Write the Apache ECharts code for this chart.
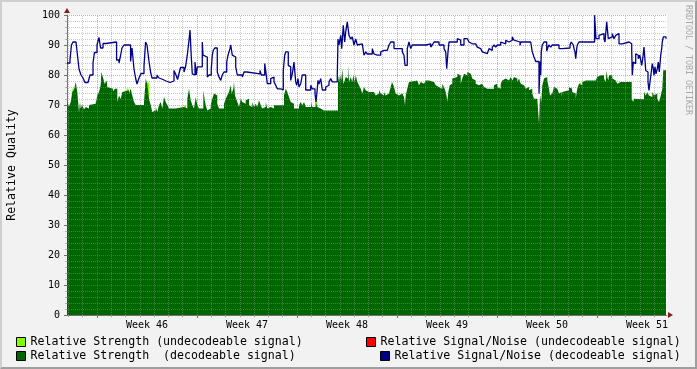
<!DOCTYPE html>
<html><head><meta charset="utf-8">
<script src="https://cdn.jsdelivr.net/npm/echarts@6/dist/echarts.min.js"></script>
<style>
html,body{margin:0;padding:0;background:#f2f2f2;}
#wrap{position:relative;width:697px;height:369px;overflow:hidden;}
#chart{width:697px;height:369px;}
#frame{position:absolute;left:0;top:0;width:697px;height:369px;box-sizing:border-box;border-top:2px solid #cfcfcf;border-left:2px solid #cfcfcf;border-right:2px solid #9e9e9e;border-bottom:2px solid #9e9e9e;pointer-events:none;}
</style></head>
<body><div id="wrap"><div id="chart"></div><div id="frame"></div></div>
<script>
// time axis in days since the start of Week 46
const weekLabels = ['Week 46','Week 47','Week 48','Week 49','Week 50','Week 51'];
const weekLabelPos = [3.5,10.5,17.5,24.5,31.5,38.5];
const weekStarts = [0,7,14,21,28,35];
const yTicks = [0,10,20,30,40,50,60,70,80,90,100];

const seriesNames = [
  'Relative Strength (undecodeable signal)',
  'Relative Strength  (decodeable signal)',
  'Relative Signal/Noise (undecodeable signal)',
  'Relative Signal/Noise (decodeable signal)'
];

// Relative Strength (decodeable signal)
const strengthT = [-2.10,-1.96,-1.84,-1.73,-1.61,-1.49,-1.38,-1.26,-1.19,-1.14,-1.03,-0.91,-0.79,-0.68,-0.56,-0.44,-0.09,0.02,0.14,0.26,0.30,0.44,0.54,0.68,0.72,0.84,1.12,1.26,1.42,1.54,1.66,1.77,1.89,2.24,2.36,2.47,2.59,2.71,3.29,3.41,3.52,3.64,3.76,3.87,3.99,4.11,4.22,4.34,4.46,4.57,4.69,4.81,4.92,5.04,5.51,6.09,6.32,6.44,6.56,6.67,6.79,6.91,7.02,7.14,7.44,7.54,7.61,7.72,7.84,7.96,8.07,8.19,8.31,8.42,8.54,8.89,9.01,9.12,9.24,9.36,9.43,9.54,9.59,9.66,9.78,9.87,9.94,10.06,10.17,10.29,10.41,10.52,10.64,10.76,10.87,10.99,11.11,11.22,11.34,11.46,11.57,11.69,11.81,11.92,12.04,12.16,12.27,12.39,13.09,13.21,13.32,13.44,13.56,13.67,13.79,14.14,14.26,14.37,14.49,14.61,14.98,15.07,15.31,15.42,15.54,15.66,15.89,16.01,16.47,16.59,16.87,16.94,17.01,17.10,17.17,17.24,17.34,17.41,17.52,17.57,17.64,17.76,17.87,17.94,18.04,18.11,18.22,18.34,18.46,18.57,18.69,18.81,18.92,19.04,19.16,19.39,19.51,19.62,19.74,19.86,19.97,20.09,20.21,20.32,20.44,20.56,20.65,20.79,20.91,21.02,21.14,21.37,21.49,21.56,21.61,21.72,21.84,21.96,22.42,22.54,22.66,22.77,22.89,23.01,23.24,23.59,23.71,23.82,23.94,24.06,24.17,24.29,24.41,24.48,24.52,24.59,24.69,24.76,24.87,24.99,25.22,25.29,25.34,25.46,25.57,25.69,25.81,25.92,26.04,26.16,26.27,26.39,26.51,26.62,26.74,26.86,26.97,27.09,27.21,27.32,27.44,27.56,27.67,27.79,27.91,28.02,28.14,28.26,28.37,28.49,28.61,28.72,28.84,28.96,29.07,29.19,29.31,29.42,29.54,29.66,29.77,29.89,30.01,30.12,30.24,30.36,30.47,30.59,30.82,30.89,30.94,31.01,31.10,31.17,31.29,31.41,31.52,31.64,31.71,31.76,31.87,31.99,32.11,32.22,32.34,32.46,32.53,32.57,32.69,33.04,33.16,33.23,33.27,33.39,33.51,33.58,33.62,33.74,33.86,33.97,34.09,34.21,34.32,34.44,34.56,34.67,34.79,34.91,35.02,35.14,35.26,35.37,35.49,35.61,35.68,35.72,35.79,35.84,36.07,36.19,36.31,36.42,36.54,36.66,36.77,36.89,37.01,37.24,37.38,37.43,37.54,37.59,37.71,38.29,38.41,38.52,38.64,38.76,38.87,38.99,39.11,39.22,39.34,39.41,39.46,39.57,39.64,39.83];
const strengthV = [71,69.5,71,74.3,75,77.7,74.3,67.7,71,68.8,70,68.5,69.3,68.8,70,70.4,71,73.2,74.3,76.6,81,78.8,77,78.2,76,75.4,74.6,75.4,71,73.2,72,74.3,74.9,73.8,75.4,73.2,71,70,71,78.8,77,72,70,67.7,68.2,69.3,67.7,70,71,68.8,72.7,71,70,68.8,69.3,68.8,72.1,75.4,71.6,70,68.8,72.7,70,68.8,75,71.6,70,68.2,68.8,70,72.1,73.8,73.2,70.4,68.8,70.4,72.1,73.2,74.3,76.6,73.8,75.4,77.7,73.2,71.6,70.4,69.3,72.1,71,70.4,71.6,72.1,69.9,69.3,71,69.3,70.4,69.3,71.6,69.9,68.8,69.3,71,68.8,69.3,69.9,68.8,69.9,73.2,75.4,74.3,72.7,71,70.4,68.8,69.9,71,69.9,71,69.3,71,69.3,71,69.3,68.8,68.2,68.8,68.2,68.8,68.2,79.9,77.7,79.9,78.2,82.1,77,78.2,79.3,78.8,83.2,77.7,79.3,77.7,79.9,77.7,79.9,77.7,76.6,75.4,73.8,76,74.9,74.3,74.9,74.3,74.9,73.2,73.8,74.9,73.8,73.2,74.3,73.2,73.8,74.3,76,77.7,76,73.8,73.2,73.8,73.2,72.7,69.9,73.2,75.4,77.7,78.2,77.7,76.6,77.7,77.1,77.7,78.2,77.7,77.1,76.6,76,76.6,75.4,77.1,76,74.3,72.7,71,74.3,76.6,77.1,78.8,79.3,80.4,81,79.9,77.1,78.8,80.4,79.9,81,80.4,79.9,78.8,78.2,77.1,76.6,76,77.1,76.6,76,75.4,76,75.4,76,75.4,76.6,77.1,76,75.4,77.1,78.2,78.8,79.3,78.2,78.8,79.3,78.2,79.3,78.8,77.7,78.8,77.1,76.6,76,75.4,76,74.9,75.4,73.8,72.1,72.7,71.6,63.8,73.2,71,76.6,78.8,79.3,78.2,75.4,73.2,73.8,74.3,76,75.4,74.9,73.8,74.3,72.7,74.3,74.9,76,75.4,76.6,74.3,73.8,72.1,74.3,75.4,77.1,76.6,77.7,78.2,77.7,78.2,77.7,78.2,77.7,78.2,78.8,79.3,79.9,79.3,79.9,78.8,77.7,81.6,79.3,78.2,79.9,78.8,78.2,77.7,77.1,77.7,77.1,77.7,78.2,77.7,77.1,77.7,72.1,71,72.1,71.9,74.3,73.2,74.3,73.2,72.7,74.3,73.2,73.8,72.1,71,72.1,73.2,75.4,81.6,81.6];

// Relative Strength (undecodeable signal): only visible where it tops the decodeable area
const weakT = [-1.66,-0.02,2.14,3.57,6.16,15.35,33.81];
const weakV = [75.5,71.5,75.5,77.5,69.8,71.5,77.3];

// Relative Signal/Noise (undecodeable signal): no samples in this period
const snrWeakT = [];
const snrWeakV = [];

// Relative Signal/Noise (decodeable signal)
const snrT = [-2.10,-1.89,-1.79,-1.68,-1.47,-1.40,-1.26,-1.12,-0.98,-0.84,-0.63,-0.49,-0.28,-0.18,0.00,0.14,0.25,0.42,0.63,1.37,1.54,1.65,1.75,1.89,2.35,2.45,2.59,2.70,2.80,2.94,3.08,3.29,3.40,3.50,3.64,3.75,3.85,4.20,4.34,4.48,4.62,4.83,5.11,5.39,5.53,5.64,5.74,5.85,6.09,6.21,6.32,6.44,6.51,6.56,6.60,6.67,6.79,6.86,6.95,7.02,7.37,7.42,7.49,7.72,7.84,8.00,8.07,8.14,8.24,8.42,8.54,8.66,8.77,8.89,9.08,9.17,9.31,9.36,9.47,9.59,9.71,9.82,10.17,10.29,10.50,11.41,11.50,11.74,11.81,11.92,12.16,12.27,12.39,12.51,12.62,12.86,13.04,13.14,13.21,13.39,13.51,13.56,13.67,13.79,13.91,13.98,14.07,14.14,14.26,14.37,14.61,14.96,15.07,15.26,15.33,15.42,15.47,15.54,15.66,15.77,16.01,16.12,16.24,16.36,16.47,16.82,16.87,16.94,17.06,17.13,17.24,17.34,17.41,17.52,17.64,17.76,17.87,17.99,18.11,18.22,18.34,18.57,18.69,18.81,18.92,19.27,19.39,19.51,19.62,19.74,19.86,19.97,20.09,20.21,20.32,20.44,20.56,20.79,21.37,21.49,21.56,21.72,21.84,21.96,22.07,22.77,22.89,23.03,23.36,23.47,23.59,23.94,24.29,24.41,24.48,24.57,24.64,25.22,25.34,25.46,25.69,25.92,26.04,26.16,26.27,26.39,26.51,26.62,26.74,26.86,26.97,27.09,27.32,27.44,27.56,27.67,27.79,27.91,28.02,28.26,28.37,28.61,28.72,28.84,29.07,29.19,29.31,29.61,29.66,30.36,30.47,30.59,30.71,30.94,31.01,31.06,31.10,31.17,31.29,31.48,31.57,31.64,31.76,31.87,32.34,32.41,32.46,32.57,33.11,33.20,33.27,33.34,33.39,33.46,33.51,33.58,33.62,33.74,34.83,34.93,35.14,35.26,35.49,35.56,35.68,35.79,35.91,36.07,36.19,36.31,36.42,36.54,36.77,37.24,37.43,37.47,37.54,37.64,37.71,37.78,37.82,37.89,37.99,38.06,38.13,38.20,38.29,38.36,38.41,38.48,38.57,38.64,38.71,38.80,38.87,38.94,38.99,39.06,39.13,39.22,39.29,39.36,39.46,39.53,39.57,39.64,39.83];
const snrV = [84,85,90,91,90.5,88,82,80,79,77.5,78,80,84,87.5,90,92.5,89,90.5,91,85,84,86.5,89,90,84.5,89,82,79,77,79,80.5,83,91,90,84.5,81,79,80,79,78.5,78,77.5,78,81.5,80,78.5,80.5,82.5,81,83,86.6,91.6,95,90,86,80.4,80,84.3,80,82.7,91,86.6,86,79.3,80,82,86.6,88.2,89,81,79.3,78.2,80,81,84.3,86.6,88.8,90,86.6,86,82.7,80,79.3,81,80.4,81.5,80,83.8,81.5,77.1,78.8,79.3,77.7,76.6,75.4,75,81.5,86.6,87.7,83.2,82.7,78.2,80.4,84.3,77.7,76.6,78.8,76,77.1,80,75,76.6,75.4,73.8,71,75.4,78.2,77,78.8,75,76,76.6,77.7,78.8,77.7,80,92,90,93.2,88.8,96.6,91,94.4,97.7,93.2,92,92.7,90,92,90,90.4,91,86.6,87.7,87,88.8,87,86.6,87,86.6,87.7,88.2,87.7,88.2,88.8,90,91,88.8,87.7,86.6,83.2,88.8,91,88.8,90,90.4,90,90.4,89.3,90,91,90,88.8,87.7,82.1,87.7,91,92.1,91.6,90,92.1,91.6,91,90.4,91,90.4,90,89.3,88.8,88.2,87.7,87.1,87.7,88.8,88.2,89.3,90,89.3,90,91,90.4,91.6,91,91.6,92.7,91.6,91,89.9,91,91.6,87.7,86,84.5,73.8,84.5,79.9,87.7,90,91,88,89.3,90,89.3,90,88.8,88.2,88.8,89,90,91,90.4,90,88.8,87.7,85.4,88.8,90,91,99.9,92.1,93.2,93.8,92.1,91,97.7,92.1,92.7,93.8,92.1,93.2,93.8,90.4,91,90.4,88.2,79.9,84.3,83.8,87.1,87.7,86.6,85.4,86.6,87.1,83.2,85.4,89.3,84.9,81.5,81,77.7,74.9,77.7,81,83.8,82.1,79.9,82.7,80.4,82.1,84.3,81,86.6,88.8,91,92.7,92.1];

const zip = (t, v) => t.map((x, i) => [x, v[i]]);

const FONT = 'DejaVu Sans Mono';
const C_WEAK = '#80ff00', C_STR = '#006600', C_SNRW = '#ff0000', C_SNR = '#000088';
const GRID_MINOR = 'rgba(143,143,143,0.5)';
const GRID_MAJOR = 'rgba(222,79,79,0.55)';

const X_MIN = -2.1, X_MAX = 39.9;

// grid lines (drawn on top of areas, as rrdtool does)
const gridLines = [];
for (let d = -2; d <= 39; d++) {
  const major = weekStarts.indexOf(d) >= 0;
  gridLines.push({xAxis: d, lineStyle: {color: major ? GRID_MAJOR : GRID_MINOR}});
}
for (let v = 2; v <= 100; v += 2) {
  const major = v % 10 === 0;
  gridLines.push({yAxis: v, lineStyle: {color: major ? GRID_MAJOR : GRID_MINOR}});
}
const dayTicks = [];
for (let d = -2; d <= 39; d++) dayTicks.push(d);

const legendCommon = {
  orient: 'horizontal', icon: 'rect', itemWidth: 9, itemHeight: 9, padding: 0,
  selectedMode: false,
  itemStyle: {borderColor: '#000', borderWidth: 1},
  textStyle: {fontFamily: FONT, fontSize: 11.6, color: '#000'}
};

const chart = echarts.init(document.getElementById('chart'), null, {renderer: 'canvas'});
chart.setOption({
  animation: false,
  backgroundColor: '#f2f2f2',
  grid: {left: 67, right: 30, top: 15, bottom: 54, show: true, backgroundColor: '#ffffff', borderWidth: 0,
    containLabel: false, outerBoundsMode: 'none'},
  legend: [
    Object.assign({}, legendCommon, {left: 16, top: 336, data: [{name: seriesNames[0], itemStyle: {color: C_WEAK}}]}),
    Object.assign({}, legendCommon, {left: 16, top: 350, data: [{name: seriesNames[1], itemStyle: {color: C_STR}}]}),
    Object.assign({}, legendCommon, {left: 366, top: 336, data: [{name: seriesNames[2], itemStyle: {color: C_SNRW}}]}),
    Object.assign({}, legendCommon, {left: 380, top: 350, data: [{name: seriesNames[3], itemStyle: {color: C_SNR}}]})
  ],
  xAxis: [{
    type: 'value', min: X_MIN, max: X_MAX, position: 'bottom',
    axisLine: {show: true, onZero: false, lineStyle: {color: '#707070', width: 1}},
    axisTick: {show: true, customValues: dayTicks, length: 2, lineStyle: {color: '#9a9a9a'}},
    axisLabel: {show: true, customValues: weekLabelPos, margin: 5,
      fontFamily: FONT, fontSize: 10, color: '#000',
      formatter: v => weekLabels[weekLabelPos.indexOf(v)] || ''},
    splitLine: {show: false}
  }, {
    type: 'value', min: X_MIN, max: X_MAX, position: 'bottom', offset: 0,
    axisLine: {show: false, onZero: false},
    axisTick: {show: true, customValues: weekStarts, length: 3, lineStyle: {color: '#d04a4a'}},
    axisLabel: {show: false},
    splitLine: {show: false}
  }],
  yAxis: {
    type: 'value', min: 0, max: 100, interval: 10,
    name: 'Relative Quality', nameLocation: 'middle', nameGap: 49,
    nameTextStyle: {fontFamily: FONT, fontSize: 11.6, color: '#000'},
    axisLine: {show: true, onZero: false, lineStyle: {color: '#707070'}},
    axisTick: {show: true, length: 3, lineStyle: {color: '#707070'}},
    minorTick: {show: true, splitNumber: 5, length: 2, lineStyle: {color: '#b0b0b0'}},
    axisLabel: {fontFamily: FONT, fontSize: 10, color: '#000', margin: 7,
      formatter: v => yTicks.indexOf(v) >= 0 ? String(v) : ''},
    splitLine: {show: false}
  },
  series: [
    {
      name: seriesNames[0], type: 'bar', xAxisIndex: 0, barWidth: 2, z: 2,
      itemStyle: {color: C_WEAK}, data: zip(weakT, weakV)
    },
    {
      name: seriesNames[1], type: 'line', xAxisIndex: 0, step: 'end', z: 3,
      symbol: 'none', color: C_STR,
      lineStyle: {width: 0, color: C_STR},
      areaStyle: {color: C_STR, opacity: 1},
      data: zip(strengthT, strengthV)
    },
    {
      name: 'grid', type: 'line', xAxisIndex: 0, z: 4, data: [], silent: true,
      markLine: {silent: true, symbol: ['none', 'none'], label: {show: false},
        lineStyle: {type: [1, 1], width: 1},
        emphasis: {disabled: true},
        data: gridLines}
    },
    {
      name: seriesNames[2], type: 'line', xAxisIndex: 0, step: 'end', z: 5,
      symbol: 'none', color: C_SNRW, lineStyle: {width: 1.3, color: C_SNRW},
      data: zip(snrWeakT, snrWeakV)
    },
    {
      name: seriesNames[3], type: 'line', xAxisIndex: 0, step: 'end', z: 6,
      symbol: 'none', color: C_SNR, lineStyle: {width: 1.3, color: C_SNR},
      data: zip(snrT, snrV)
    }
  ],
  graphic: [
    {type: 'text', x: 688, y: 5, rotation: -Math.PI / 2,
      style: {text: 'RRDTOOL / TOBI OETIKER', fill: '#a8a8a8', font: '8.3px "DejaVu Sans Mono"',
        textAlign: 'left', textVerticalAlign: 'middle', align: 'left', verticalAlign: 'middle'}},
    {type: 'polygon', shape: {points: [[67, 8], [64, 13], [70, 13]]}, style: {fill: '#7f1f1f'}},
    {type: 'polygon', shape: {points: [[673, 315], [668, 312], [668, 318]]}, style: {fill: '#7f1f1f'}}
  ]
});
</script></body></html>
